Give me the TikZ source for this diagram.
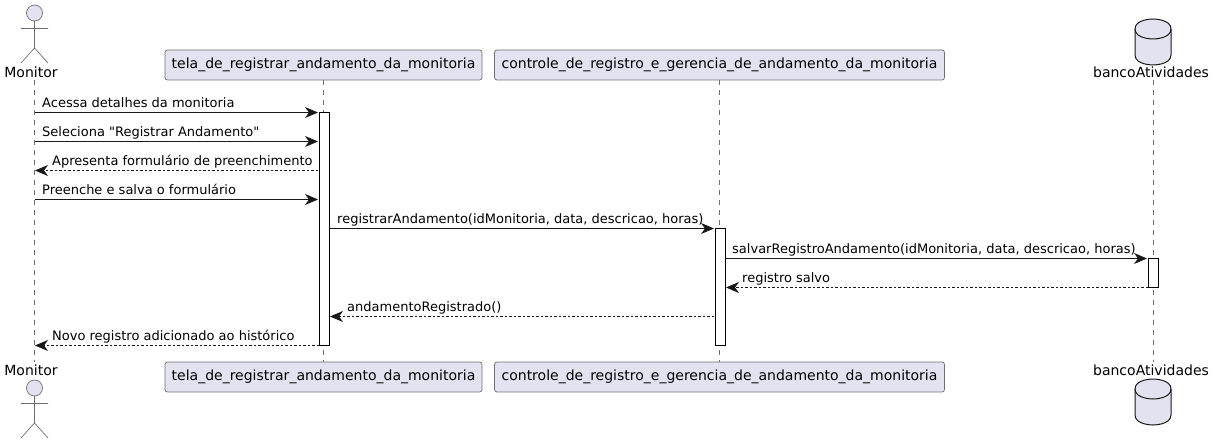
\documentclass[tikz,border=0pt]{standalone}
\usepackage{fontspec}
\setmainfont[Ligatures=TeXOff]{DejaVu Sans}
\usetikzlibrary{arrows.meta}
\definecolor{pfill}{HTML}{E2E2F0}
\definecolor{pline}{HTML}{181818}
\definecolor{thinline}{HTML}{707070}
\tikzset{
  x=1pt,y=-1pt,
  partbox/.style={draw=thinline,line width=.7pt,fill=pfill,rounded corners=2.5pt,minimum height=30pt,inner sep=0pt,font=\fontsize{14}{16}\selectfont},
  namelabel/.style={inner sep=0pt,anchor=base,font=\fontsize{14}{16}\selectfont,text=black},
  msglabel/.style={inner sep=0pt,anchor=base west,font=\fontsize{13}{15}\selectfont,text=black},
  lifeline/.style={draw=thinline,line width=.6pt,dash pattern=on 5pt off 5pt},
  actbar/.style={draw=black,line width=1pt,fill=white},
  call/.style={draw=pline,line width=1pt,-{Stealth[length=13pt,width=11pt,inset=4pt,fill=pline]}},
  reply/.style={draw=pline,line width=.8pt,dash pattern=on 2.5pt off 2pt,-{Stealth[length=13pt,width=11pt,inset=4pt,fill=pline]}},
  actorline/.style={draw=thinline,line width=.7pt},
  actorhead/.style={draw=thinline,line width=.7pt,fill=pfill},
  dbshape/.style={draw=pline,line width=1pt,fill=pfill},
}
\newcommand{\myactor}[2]{%
  \draw[actorhead] (#1,#2) circle (8);
  \draw[actorline] (#1,#2+8) -- (#1,#2+35) (#1-13.5,#2+15.5) -- (#1+13.5,#2+15.5) (#1-13.5,#2+50) -- (#1,#2+35) -- (#1+13.5,#2+50);
}
\newcommand{\mydb}[2]{%
  \draw[dbshape] (#1-18,#2+10) .. controls (#1-18,#2) and (#1,#2) .. (#1,#2) .. controls (#1,#2) and (#1+18,#2) .. (#1+18,#2+10)
    -- (#1+18,#2+36) .. controls (#1+18,#2+46) and (#1,#2+46) .. (#1,#2+46) .. controls (#1,#2+46) and (#1-18,#2+46) .. (#1-18,#2+36) -- cycle;
  \draw[dbshape,fill=none] (#1-18,#2+10) .. controls (#1-18,#2+20) and (#1,#2+20) .. (#1,#2+20) .. controls (#1,#2+20) and (#1+18,#2+20) .. (#1+18,#2+10);
}
\begin{document}
\begin{tikzpicture}
\useasboundingbox (0,0) rectangle (1214,443);
% lifeline ends
\coordinate (mTop) at (34.5,80);
\coordinate (mBot) at (34.5,362);
\coordinate (bTop) at (1153,80);
\coordinate (bBot) at (1153,362);
% participants
\node[partbox,minimum width=317pt] (telaTop) at (323.5,65) {tela\_de\_registrar\_andamento\_da\_monitoria};
\node[partbox,minimum width=450pt] (ctrlTop) at (719.5,65) {controle\_de\_registro\_e\_gerencia\_de\_andamento\_da\_monitoria};
\node[partbox,minimum width=317pt] (telaBot) at (323.5,377) {tela\_de\_registrar\_andamento\_da\_monitoria};
\node[partbox,minimum width=450pt] (ctrlBot) at (719.5,377) {controle\_de\_registro\_e\_gerencia\_de\_andamento\_da\_monitoria};
% lifelines
\draw[lifeline] (mTop) -- (mBot);
\draw[lifeline] (telaTop.south) -- (telaBot.north);
\draw[lifeline] (ctrlTop.south) -- (ctrlBot.north);
\draw[lifeline] (bTop) -- (bBot);
% actors and databases
\myactor{34.5}{13}
\myactor{34.5}{388}
\mydb{1153}{19}
\mydb{1153}{379}
\node[namelabel] (monTop) at (31,78) {Monitor};
\node[namelabel] (monBot) at (31,375) {Monitor};
\node[namelabel] (dbTop) at (1151,78) {bancoAtividades};
\node[namelabel] (dbBot) at (1151,375) {bancoAtividades};
% activation bars
\draw[actbar] (319.5,112.5) rectangle (329.5,345.5);
\draw[actbar] (715.5,228.5) rectangle (725.5,345.5);
\draw[actbar] (1148.5,258.5) rectangle (1158.5,287.5);
% message end points
\coordinate (m1) at (34.5,112.5); \coordinate (t1) at (318,112.5);
\coordinate (m2) at (34.5,141.5); \coordinate (t2) at (318,141.5);
\coordinate (m3) at (35,170.5);   \coordinate (t3) at (318,170.5);
\coordinate (m4) at (34.5,199.5); \coordinate (t4) at (318,199.5);
\coordinate (t5) at (329.5,228.5);\coordinate (c5) at (714,228.5);
\coordinate (c6) at (725,258.5);  \coordinate (b6) at (1147,258.5);
\coordinate (c7) at (726,287.5);  \coordinate (b7) at (1148,287.5);
\coordinate (t8) at (330,316.5);  \coordinate (c8) at (714,316.5);
\coordinate (m9) at (35,345.5);   \coordinate (t9) at (319,345.5);
% messages
\draw[call] (m1) -- (t1);
\draw[call] (m2) -- (t2);
\draw[reply] (t3) -- (m3);
\draw[call] (m4) -- (t4);
\draw[call] (t5) -- (c5);
\draw[call] (c6) -- (b6);
\draw[reply] (b7) -- (c7);
\draw[reply] (c8) -- (t8);
\draw[reply] (t9) -- (m9);
% message labels
\node[msglabel] (l1) at (42,107.5) {Acessa detalhes da monitoria};
\node[msglabel] (l2) at (42,136.5) {Seleciona "Registrar Andamento"};
\node[msglabel] (l3) at (52,166) {Apresenta formulário de preenchimento};
\node[msglabel] (l4) at (42,195) {Preenche e salva o formulário};
\node[msglabel] (l5) at (337,224) {registrarAndamento(idMonitoria, data, descricao, horas)};
\node[msglabel] (l6) at (732,253.5) {salvarRegistroAndamento(idMonitoria, data, descricao, horas)};
\node[msglabel] (l7) at (742,282.5) {registro salvo};
\node[msglabel] (l8) at (347,311.5) {andamentoRegistrado()};
\node[msglabel] (l9) at (52,340.5) {Novo registro adicionado ao histórico};
\end{tikzpicture}
\end{document}
